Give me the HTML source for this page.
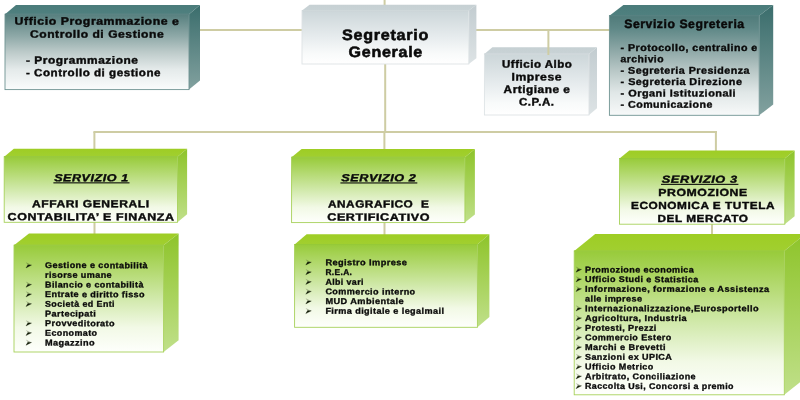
<!DOCTYPE html>
<html><head><meta charset="utf-8"><title>Organigramma</title>
<style>
html,body{margin:0;padding:0;background:#fff;}
body{width:800px;height:400px;overflow:hidden;font-family:"Liberation Sans",sans-serif;}
svg{display:block;filter:blur(0.55px);}
text{font-family:"Liberation Sans",sans-serif;font-weight:bold;fill:#0a0a0a;stroke:#0a0a0a;}
</style></head><body>
<svg width="800" height="400" viewBox="0 0 800 400">

<defs>
<linearGradient id="tealFront" x1="0" y1="0" x2="0" y2="1">
<stop offset="0" stop-color="#567f7e"/><stop offset="0.3" stop-color="#90aaa9"/><stop offset="0.5" stop-color="#bccac9"/><stop offset="0.73" stop-color="#e4eaea"/><stop offset="1" stop-color="#fafcfc"/>
</linearGradient>
<linearGradient id="tealFront2" x1="0" y1="0" x2="0" y2="1">
<stop offset="0" stop-color="#507b7a"/><stop offset="0.13" stop-color="#5f8887"/><stop offset="0.35" stop-color="#8ea8a7"/><stop offset="0.55" stop-color="#b8c7c6"/><stop offset="0.77" stop-color="#e0e7e7"/><stop offset="1" stop-color="#f7f9f9"/>
</linearGradient>
<linearGradient id="tealTop" x1="0" y1="0" x2="0" y2="1">
<stop offset="0" stop-color="#4a7b7a"/><stop offset="1" stop-color="#4f807f"/>
</linearGradient>
<linearGradient id="tealSide" x1="0" y1="0" x2="0" y2="1">
<stop offset="0" stop-color="#3a6d6c"/><stop offset="1" stop-color="#82a19f"/>
</linearGradient>
<linearGradient id="greyFront" x1="0" y1="0" x2="0" y2="1">
<stop offset="0" stop-color="#ccd6d9"/><stop offset="0.5" stop-color="#e7ecee"/><stop offset="0.8" stop-color="#f8fafa"/><stop offset="1" stop-color="#ffffff"/>
</linearGradient>
<linearGradient id="greyTop" x1="0" y1="0" x2="0" y2="1">
<stop offset="0" stop-color="#c6d0d3"/><stop offset="1" stop-color="#c9d3d6"/>
</linearGradient>
<linearGradient id="greySide" x1="0" y1="0" x2="0" y2="1">
<stop offset="0" stop-color="#c2ccd0"/><stop offset="1" stop-color="#dde3e5"/>
</linearGradient>
<linearGradient id="greenFront" x1="0" y1="0" x2="0" y2="1">
<stop offset="0" stop-color="#98cb3a"/><stop offset="0.5" stop-color="#d1e9ab"/><stop offset="0.77" stop-color="#f2f9e6"/><stop offset="1" stop-color="#fefffc"/>
</linearGradient>
<linearGradient id="greenTop" x1="0" y1="0" x2="0" y2="1">
<stop offset="0" stop-color="#9ecd24"/><stop offset="1" stop-color="#a1cf30"/>
</linearGradient>
<linearGradient id="greenSide" x1="0" y1="0" x2="0" y2="1">
<stop offset="0" stop-color="#8ec42a"/><stop offset="1" stop-color="#c0e08a"/>
</linearGradient>
</defs>

<rect width="800" height="400" fill="#ffffff"/>
<g id="lines">
<rect x="199" y="29.0" width="104" height="2" fill="#cecca3"/>
<rect x="475" y="29.0" width="135" height="2" fill="#cecca3"/>
<rect x="383.6" y="0" width="2" height="6" fill="#cecca3"/>
<rect x="384.2" y="63" width="2" height="69" fill="#cecca3"/>
<rect x="93.4" y="131.0" width="623.6" height="2" fill="#cecca3"/>
<rect x="93.4" y="132" width="2" height="18" fill="#cecca3"/>
<rect x="383.4" y="132" width="2" height="18" fill="#cecca3"/>
<rect x="714.9" y="132" width="2" height="20" fill="#cecca3"/>
<rect x="93.5" y="222" width="2" height="13" fill="#cecca3"/>
<rect x="383.5" y="222" width="2" height="13" fill="#cecca3"/>
<rect x="711.0" y="223" width="2" height="12" fill="#cecca3"/>
<polygon points="5,14.2 16,5.0 200,5.0 189,14.2" fill="url(#tealTop)"/>
<polygon points="189,14.2 200,5.0 200,80.39999999999999 189,89.6" fill="url(#tealSide)"/>
<rect x="5" y="14.2" width="184" height="75.39999999999999" fill="url(#tealFront)" stroke="#6f9392" stroke-width="0.9"/>
<line x1="5" y1="14.2" x2="189" y2="14.2" stroke="#4f7b7a" stroke-width="0.9"/>
<polygon points="302,10.6 309.6,4.8 476.40000000000003,4.8 468.8,10.6" fill="url(#greyTop)"/>
<polygon points="468.8,10.6 476.40000000000003,4.8 476.40000000000003,58.2 468.8,64" fill="url(#greySide)"/>
<rect x="302" y="10.6" width="166.8" height="53.4" fill="url(#greyFront)" stroke="#dde3e5" stroke-width="0.9"/>
<line x1="302" y1="10.6" x2="468.8" y2="10.6" stroke="#ccd5d8" stroke-width="0.9"/>
<polygon points="484.4,54 492.4,47.2 597,47.2 589,54" fill="url(#greyTop)"/>
<polygon points="589,54 597,47.2 597,108.2 589,115" fill="url(#greySide)"/>
<rect x="484.4" y="54" width="104.60000000000002" height="61" fill="url(#greyFront)" stroke="#dde3e5" stroke-width="0.9"/>
<line x1="484.4" y1="54" x2="589" y2="54" stroke="#ccd5d8" stroke-width="0.9"/>
<polygon points="609.4,15.7 623.4,4.899999999999999 773.2,4.899999999999999 759.2,15.7" fill="url(#tealTop)"/>
<polygon points="759.2,15.7 773.2,4.899999999999999 773.2,104.5 759.2,115.3" fill="url(#tealSide)"/>
<rect x="609.4" y="15.7" width="149.80000000000007" height="99.6" fill="url(#tealFront2)" stroke="#6f9392" stroke-width="0.9"/>
<line x1="609.4" y1="15.7" x2="759.2" y2="15.7" stroke="#4f7b7a" stroke-width="0.9"/>
<polygon points="4.2,156.7 13.8,148.7 187.1,148.7 177.5,156.7" fill="url(#greenTop)"/>
<polygon points="177.5,156.7 187.1,148.7 187.1,214.3 177.5,222.3" fill="url(#greenSide)"/>
<rect x="4.2" y="156.7" width="173.3" height="65.60000000000002" fill="url(#greenFront)" stroke="#a6d15a" stroke-width="0.9"/>
<line x1="4.2" y1="156.7" x2="177.5" y2="156.7" stroke="#93c734" stroke-width="0.9"/>
<polygon points="291.6,157.2 301.6,149.0 474.9,149.0 464.9,157.2" fill="url(#greenTop)"/>
<polygon points="464.9,157.2 474.9,149.0 474.9,214.4 464.9,222.6" fill="url(#greenSide)"/>
<rect x="291.6" y="157.2" width="173.29999999999995" height="65.4" fill="url(#greenFront)" stroke="#a6d15a" stroke-width="0.9"/>
<line x1="291.6" y1="157.2" x2="464.9" y2="157.2" stroke="#93c734" stroke-width="0.9"/>
<polygon points="619.5,158.5 629.3,150.5 794.5999999999999,150.5 784.8,158.5" fill="url(#greenTop)"/>
<polygon points="784.8,158.5 794.5999999999999,150.5 794.5999999999999,216.2 784.8,224.2" fill="url(#greenSide)"/>
<rect x="619.5" y="158.5" width="165.29999999999995" height="65.69999999999999" fill="url(#greenFront)" stroke="#a6d15a" stroke-width="0.9"/>
<line x1="619.5" y1="158.5" x2="784.8" y2="158.5" stroke="#93c734" stroke-width="0.9"/>
<polygon points="14,245.2 29,233.5 178.6,233.5 163.6,245.2" fill="url(#greenTop)"/>
<polygon points="163.6,245.2 178.6,233.5 178.6,340.3 163.6,352" fill="url(#greenSide)"/>
<rect x="14" y="245.2" width="149.6" height="106.80000000000001" fill="url(#greenFront)" stroke="#a6d15a" stroke-width="0.9"/>
<line x1="14" y1="245.2" x2="163.6" y2="245.2" stroke="#93c734" stroke-width="0.9"/>
<polygon points="294.6,244.5 306.6,234.3 489.4,234.3 477.4,244.5" fill="url(#greenTop)"/>
<polygon points="477.4,244.5 489.4,234.3 489.4,317.1 477.4,327.3" fill="url(#greenSide)"/>
<rect x="294.6" y="244.5" width="182.79999999999995" height="82.80000000000001" fill="url(#greenFront)" stroke="#a6d15a" stroke-width="0.9"/>
<line x1="294.6" y1="244.5" x2="477.4" y2="244.5" stroke="#93c734" stroke-width="0.9"/>
<polygon points="574.2,251.0 595.2,234.1 805.3,234.1 784.3,251.0" fill="url(#greenTop)"/>
<polygon points="784.3,251.0 805.3,234.1 805.3,377.90000000000003 784.3,394.8" fill="url(#greenSide)"/>
<rect x="574.2" y="251.0" width="210.0999999999999" height="143.8" fill="url(#greenFront)" stroke="#a6d15a" stroke-width="0.9"/>
<line x1="574.2" y1="251.0" x2="784.3" y2="251.0" stroke="#93c734" stroke-width="0.9"/>
<rect x="547.4" y="30" width="2" height="25" fill="#cecca3"/>
</g>
<g id="texts">
<text x="14.6" y="24.8" transform="rotate(0.03 14.6 24.8)" font-size="10.89" stroke-width="0.41" letter-spacing="0.49" textLength="164.9" lengthAdjust="spacingAndGlyphs" >Ufficio Programmazione e</text>
<text x="30" y="37.8" transform="rotate(0.03 30 37.8)" font-size="10.89" stroke-width="0.41" letter-spacing="0.49" textLength="134.2" lengthAdjust="spacingAndGlyphs" >Controllo di Gestione</text>
<text x="25.9" y="63.7" transform="rotate(0.03 25.9 63.7)" font-size="10.57" stroke-width="0.4" letter-spacing="0.48" textLength="112.6" lengthAdjust="spacingAndGlyphs" >- Programmazione</text>
<text x="25.9" y="76.3" transform="rotate(0.03 25.9 76.3)" font-size="10.57" stroke-width="0.4" letter-spacing="0.48" textLength="135.1" lengthAdjust="spacingAndGlyphs" >- Controllo di gestione</text>
<text x="342" y="40" transform="rotate(0.03 342 40)" font-size="15.12" stroke-width="0.57" letter-spacing="0.68" textLength="87.0" lengthAdjust="spacingAndGlyphs" >Segretario</text>
<text x="348.6" y="57" transform="rotate(0.03 348.6 57)" font-size="15.12" stroke-width="0.57" letter-spacing="0.68" textLength="74.4" lengthAdjust="spacingAndGlyphs" >Generale</text>
<text x="502" y="67.8" transform="rotate(0.03 502 67.8)" font-size="10.89" stroke-width="0.41" letter-spacing="0.49" textLength="70.4" lengthAdjust="spacingAndGlyphs" >Ufficio Albo</text>
<text x="511.6" y="80.4" transform="rotate(0.03 511.6 80.4)" font-size="10.89" stroke-width="0.41" letter-spacing="0.49" textLength="50.4" lengthAdjust="spacingAndGlyphs" >Imprese</text>
<text x="503.6" y="93" transform="rotate(0.03 503.6 93)" font-size="10.89" stroke-width="0.41" letter-spacing="0.49" textLength="66.8" lengthAdjust="spacingAndGlyphs" >Artigiane e</text>
<text x="519" y="105.6" transform="rotate(0.03 519 105.6)" font-size="10.89" stroke-width="0.41" letter-spacing="0.49" textLength="35.6" lengthAdjust="spacingAndGlyphs" >C.P.A.</text>
<text x="624.2" y="28.0" transform="rotate(0.03 624.2 28.0)" font-size="12.16" stroke-width="0.46" letter-spacing="0.55" textLength="120.5" lengthAdjust="spacingAndGlyphs" >Servizio Segreteria</text>
<text x="620.6" y="51.0" transform="rotate(0.03 620.6 51.0)" font-size="9.83" stroke-width="0.37" letter-spacing="0.44" textLength="137.1" lengthAdjust="spacingAndGlyphs" >- Protocollo, centralino e</text>
<text x="620.6" y="62.3" transform="rotate(0.03 620.6 62.3)" font-size="9.83" stroke-width="0.37" letter-spacing="0.44" textLength="43.4" lengthAdjust="spacingAndGlyphs" >archivio</text>
<text x="620.6" y="73.7" transform="rotate(0.03 620.6 73.7)" font-size="9.83" stroke-width="0.37" letter-spacing="0.44" textLength="129.4" lengthAdjust="spacingAndGlyphs" >- Segreteria Presidenza</text>
<text x="620.6" y="85.0" transform="rotate(0.03 620.6 85.0)" font-size="9.83" stroke-width="0.37" letter-spacing="0.44" textLength="121.8" lengthAdjust="spacingAndGlyphs" >- Segreteria Direzione</text>
<text x="620.6" y="96.4" transform="rotate(0.03 620.6 96.4)" font-size="9.83" stroke-width="0.37" letter-spacing="0.44" textLength="115.4" lengthAdjust="spacingAndGlyphs" >- Organi Istituzionali</text>
<text x="620.6" y="107.7" transform="rotate(0.03 620.6 107.7)" font-size="9.83" stroke-width="0.37" letter-spacing="0.44" textLength="92.2" lengthAdjust="spacingAndGlyphs" >- Comunicazione</text>
<text x="54.2" y="181.2" transform="rotate(0.03 54.2 181.2)" font-size="10.25" stroke-width="0.39" letter-spacing="0.46" textLength="74.5" lengthAdjust="spacingAndGlyphs" font-style="italic">SERVIZIO 1</text>
<rect x="53.4" y="182.3" width="76.1" height="1.1" fill="#0a0a0a"/>
<text x="32" y="207.3" transform="rotate(0.03 32 207.3)" font-size="10.36" stroke-width="0.39" letter-spacing="0.47" textLength="117.6" lengthAdjust="spacingAndGlyphs" >AFFARI GENERALI</text>
<text x="7.6" y="220.3" transform="rotate(0.03 7.6 220.3)" font-size="10.36" stroke-width="0.39" letter-spacing="0.47" textLength="167.0" lengthAdjust="spacingAndGlyphs" >CONTABILITA’ E FINANZA</text>
<text x="341.2" y="181.3" transform="rotate(0.03 341.2 181.3)" font-size="10.25" stroke-width="0.39" letter-spacing="0.46" textLength="75.3" lengthAdjust="spacingAndGlyphs" font-style="italic">SERVIZIO 2</text>
<rect x="340.4" y="182.4" width="76.90000000000003" height="1.1" fill="#0a0a0a"/>
<text x="328" y="207.4" transform="rotate(0.03 328 207.4)" font-size="10.36" stroke-width="0.39" letter-spacing="0.47" textLength="101.3" lengthAdjust="spacingAndGlyphs" >ANAGRAFICO  E</text>
<text x="327.3" y="220.6" transform="rotate(0.03 327.3 220.6)" font-size="10.36" stroke-width="0.39" letter-spacing="0.47" textLength="102.7" lengthAdjust="spacingAndGlyphs" >CERTIFICATIVO</text>
<text x="661.8" y="182.8" transform="rotate(0.03 661.8 182.8)" font-size="10.25" stroke-width="0.39" letter-spacing="0.46" textLength="75.8" lengthAdjust="spacingAndGlyphs" font-style="italic">SERVIZIO 3</text>
<rect x="661" y="183.8" width="77.39999999999998" height="1.1" fill="#0a0a0a"/>
<text x="658.2" y="195.9" transform="rotate(0.03 658.2 195.9)" font-size="10.36" stroke-width="0.39" letter-spacing="0.47" textLength="89.6" lengthAdjust="spacingAndGlyphs" >PROMOZIONE</text>
<text x="631" y="209" transform="rotate(0.03 631 209)" font-size="10.36" stroke-width="0.39" letter-spacing="0.47" textLength="144.0" lengthAdjust="spacingAndGlyphs" >ECONOMICA E TUTELA</text>
<text x="657.5" y="222" transform="rotate(0.03 657.5 222)" font-size="10.36" stroke-width="0.39" letter-spacing="0.47" textLength="91.0" lengthAdjust="spacingAndGlyphs" >DEL MERCATO</text>
<text x="45" y="268.1" transform="rotate(0.03 45 268.1)" font-size="8.35" stroke-width="0.32" letter-spacing="0.38" textLength="103.0" lengthAdjust="spacingAndGlyphs" >Gestione e contabilità</text>
<path d="M25.80,262.20 L31.50,265.10 L27.80,264.90 Z" fill="#2a3a14" fill-opacity="0.35"/><path d="M27.80,264.90 L31.50,265.10 L26.00,267.90 Z" fill="#121c06" stroke="#121c06" stroke-width="0.3"/>
<text x="45" y="277.77" transform="rotate(0.03 45 277.77)" font-size="8.35" stroke-width="0.32" letter-spacing="0.38" textLength="67.0" lengthAdjust="spacingAndGlyphs" >risorse umane</text>
<text x="45" y="287.44" transform="rotate(0.03 45 287.44)" font-size="8.35" stroke-width="0.32" letter-spacing="0.38" textLength="98.8" lengthAdjust="spacingAndGlyphs" >Bilancio e contabilità</text>
<path d="M25.80,281.54 L31.50,284.44 L27.80,284.24 Z" fill="#2a3a14" fill-opacity="0.35"/><path d="M27.80,284.24 L31.50,284.44 L26.00,287.24 Z" fill="#121c06" stroke="#121c06" stroke-width="0.3"/>
<text x="45" y="297.11" transform="rotate(0.03 45 297.11)" font-size="8.35" stroke-width="0.32" letter-spacing="0.38" textLength="100.0" lengthAdjust="spacingAndGlyphs" >Entrate e diritto fisso</text>
<path d="M25.80,291.21 L31.50,294.11 L27.80,293.91 Z" fill="#2a3a14" fill-opacity="0.35"/><path d="M27.80,293.91 L31.50,294.11 L26.00,296.91 Z" fill="#121c06" stroke="#121c06" stroke-width="0.3"/>
<text x="45" y="306.78" transform="rotate(0.03 45 306.78)" font-size="8.35" stroke-width="0.32" letter-spacing="0.38" textLength="70.0" lengthAdjust="spacingAndGlyphs" >Società ed Enti</text>
<path d="M25.80,300.88 L31.50,303.78 L27.80,303.58 Z" fill="#2a3a14" fill-opacity="0.35"/><path d="M27.80,303.58 L31.50,303.78 L26.00,306.58 Z" fill="#121c06" stroke="#121c06" stroke-width="0.3"/>
<text x="45" y="316.45" transform="rotate(0.03 45 316.45)" font-size="8.35" stroke-width="0.32" letter-spacing="0.38" textLength="51.2" lengthAdjust="spacingAndGlyphs" >Partecipati</text>
<text x="45" y="326.12" transform="rotate(0.03 45 326.12)" font-size="8.35" stroke-width="0.32" letter-spacing="0.38" textLength="70.0" lengthAdjust="spacingAndGlyphs" >Provveditorato</text>
<path d="M25.80,320.22 L31.50,323.12 L27.80,322.92 Z" fill="#2a3a14" fill-opacity="0.35"/><path d="M27.80,322.92 L31.50,323.12 L26.00,325.92 Z" fill="#121c06" stroke="#121c06" stroke-width="0.3"/>
<text x="45" y="335.79" transform="rotate(0.03 45 335.79)" font-size="8.35" stroke-width="0.32" letter-spacing="0.38" textLength="52.5" lengthAdjust="spacingAndGlyphs" >Economato</text>
<path d="M25.80,329.89 L31.50,332.79 L27.80,332.59 Z" fill="#2a3a14" fill-opacity="0.35"/><path d="M27.80,332.59 L31.50,332.79 L26.00,335.59 Z" fill="#121c06" stroke="#121c06" stroke-width="0.3"/>
<text x="45" y="345.46" transform="rotate(0.03 45 345.46)" font-size="8.35" stroke-width="0.32" letter-spacing="0.38" textLength="50.0" lengthAdjust="spacingAndGlyphs" >Magazzino</text>
<path d="M25.80,339.56 L31.50,342.46 L27.80,342.26 Z" fill="#2a3a14" fill-opacity="0.35"/><path d="M27.80,342.26 L31.50,342.46 L26.00,345.26 Z" fill="#121c06" stroke="#121c06" stroke-width="0.3"/>
<text x="325.4" y="265.2" transform="rotate(0.03 325.4 265.2)" font-size="8.35" stroke-width="0.32" letter-spacing="0.38" textLength="81.9" lengthAdjust="spacingAndGlyphs" >Registro Imprese</text>
<path d="M305.60,259.30 L311.30,262.20 L307.60,262.00 Z" fill="#2a3a14" fill-opacity="0.35"/><path d="M307.60,262.00 L311.30,262.20 L305.80,265.00 Z" fill="#121c06" stroke="#121c06" stroke-width="0.3"/>
<text x="325.4" y="274.92" transform="rotate(0.03 325.4 274.92)" font-size="8.35" stroke-width="0.32" letter-spacing="0.38" textLength="26.9" lengthAdjust="spacingAndGlyphs" >R.E.A.</text>
<path d="M305.60,269.02 L311.30,271.92 L307.60,271.72 Z" fill="#2a3a14" fill-opacity="0.35"/><path d="M307.60,271.72 L311.30,271.92 L305.80,274.72 Z" fill="#121c06" stroke="#121c06" stroke-width="0.3"/>
<text x="325.4" y="284.64" transform="rotate(0.03 325.4 284.64)" font-size="8.35" stroke-width="0.32" letter-spacing="0.38" textLength="38.5" lengthAdjust="spacingAndGlyphs" >Albi vari</text>
<path d="M305.60,278.74 L311.30,281.64 L307.60,281.44 Z" fill="#2a3a14" fill-opacity="0.35"/><path d="M307.60,281.44 L311.30,281.64 L305.80,284.44 Z" fill="#121c06" stroke="#121c06" stroke-width="0.3"/>
<text x="325.4" y="294.36" transform="rotate(0.03 325.4 294.36)" font-size="8.35" stroke-width="0.32" letter-spacing="0.38" textLength="90.2" lengthAdjust="spacingAndGlyphs" >Commercio interno</text>
<path d="M305.60,288.46 L311.30,291.36 L307.60,291.16 Z" fill="#2a3a14" fill-opacity="0.35"/><path d="M307.60,291.16 L311.30,291.36 L305.80,294.16 Z" fill="#121c06" stroke="#121c06" stroke-width="0.3"/>
<text x="325.4" y="304.08" transform="rotate(0.03 325.4 304.08)" font-size="8.35" stroke-width="0.32" letter-spacing="0.38" textLength="78.6" lengthAdjust="spacingAndGlyphs" >MUD Ambientale</text>
<path d="M305.60,298.18 L311.30,301.08 L307.60,300.88 Z" fill="#2a3a14" fill-opacity="0.35"/><path d="M307.60,300.88 L311.30,301.08 L305.80,303.88 Z" fill="#121c06" stroke="#121c06" stroke-width="0.3"/>
<text x="325.4" y="313.8" transform="rotate(0.03 325.4 313.8)" font-size="8.35" stroke-width="0.32" letter-spacing="0.38" textLength="119.0" lengthAdjust="spacingAndGlyphs" >Firma digitale e legalmail</text>
<path d="M305.60,307.90 L311.30,310.80 L307.60,310.60 Z" fill="#2a3a14" fill-opacity="0.35"/><path d="M307.60,310.60 L311.30,310.80 L305.80,313.60 Z" fill="#121c06" stroke="#121c06" stroke-width="0.3"/>
<text x="585.0" y="272.4" transform="rotate(0.03 585.0 272.4)" font-size="8.35" stroke-width="0.32" letter-spacing="0.38" textLength="109.2" lengthAdjust="spacingAndGlyphs" >Promozione economica</text>
<path d="M575.80,266.50 L581.50,269.40 L577.80,269.20 Z" fill="#2a3a14" fill-opacity="0.35"/><path d="M577.80,269.20 L581.50,269.40 L576.00,272.20 Z" fill="#121c06" stroke="#121c06" stroke-width="0.3"/>
<text x="585.0" y="282.1" transform="rotate(0.03 585.0 282.1)" font-size="8.35" stroke-width="0.32" letter-spacing="0.38" textLength="113.7" lengthAdjust="spacingAndGlyphs" >Ufficio Studi e Statistica</text>
<path d="M575.80,276.20 L581.50,279.10 L577.80,278.90 Z" fill="#2a3a14" fill-opacity="0.35"/><path d="M577.80,278.90 L581.50,279.10 L576.00,281.90 Z" fill="#121c06" stroke="#121c06" stroke-width="0.3"/>
<text x="585.0" y="291.81" transform="rotate(0.03 585.0 291.81)" font-size="8.35" stroke-width="0.32" letter-spacing="0.38" textLength="184.5" lengthAdjust="spacingAndGlyphs" >Informazione, formazione e Assistenza</text>
<path d="M575.80,285.91 L581.50,288.81 L577.80,288.61 Z" fill="#2a3a14" fill-opacity="0.35"/><path d="M577.80,288.61 L581.50,288.81 L576.00,291.61 Z" fill="#121c06" stroke="#121c06" stroke-width="0.3"/>
<text x="585.0" y="301.51" transform="rotate(0.03 585.0 301.51)" font-size="8.35" stroke-width="0.32" letter-spacing="0.38" textLength="57.4" lengthAdjust="spacingAndGlyphs" >alle imprese</text>
<text x="585.0" y="311.22" transform="rotate(0.03 585.0 311.22)" font-size="8.35" stroke-width="0.32" letter-spacing="0.38" textLength="174.0" lengthAdjust="spacingAndGlyphs" >Internazionalizzazione,Eurosportello</text>
<path d="M575.80,305.32 L581.50,308.22 L577.80,308.02 Z" fill="#2a3a14" fill-opacity="0.35"/><path d="M577.80,308.02 L581.50,308.22 L576.00,311.02 Z" fill="#121c06" stroke="#121c06" stroke-width="0.3"/>
<text x="585.0" y="320.92" transform="rotate(0.03 585.0 320.92)" font-size="8.35" stroke-width="0.32" letter-spacing="0.38" textLength="102.0" lengthAdjust="spacingAndGlyphs" >Agricoltura, Industria</text>
<path d="M575.80,315.02 L581.50,317.92 L577.80,317.72 Z" fill="#2a3a14" fill-opacity="0.35"/><path d="M577.80,317.72 L581.50,317.92 L576.00,320.72 Z" fill="#121c06" stroke="#121c06" stroke-width="0.3"/>
<text x="585.0" y="330.63" transform="rotate(0.03 585.0 330.63)" font-size="8.35" stroke-width="0.32" letter-spacing="0.38" textLength="71.8" lengthAdjust="spacingAndGlyphs" >Protesti, Prezzi</text>
<path d="M575.80,324.73 L581.50,327.63 L577.80,327.43 Z" fill="#2a3a14" fill-opacity="0.35"/><path d="M577.80,327.43 L581.50,327.63 L576.00,330.43 Z" fill="#121c06" stroke="#121c06" stroke-width="0.3"/>
<text x="585.0" y="340.33" transform="rotate(0.03 585.0 340.33)" font-size="8.35" stroke-width="0.32" letter-spacing="0.38" textLength="86.7" lengthAdjust="spacingAndGlyphs" >Commercio Estero</text>
<path d="M575.80,334.44 L581.50,337.33 L577.80,337.13 Z" fill="#2a3a14" fill-opacity="0.35"/><path d="M577.80,337.13 L581.50,337.33 L576.00,340.13 Z" fill="#121c06" stroke="#121c06" stroke-width="0.3"/>
<text x="585.0" y="350.04" transform="rotate(0.03 585.0 350.04)" font-size="8.35" stroke-width="0.32" letter-spacing="0.38" textLength="80.9" lengthAdjust="spacingAndGlyphs" >Marchi e Brevetti</text>
<path d="M575.80,344.14 L581.50,347.04 L577.80,346.84 Z" fill="#2a3a14" fill-opacity="0.35"/><path d="M577.80,346.84 L581.50,347.04 L576.00,349.84 Z" fill="#121c06" stroke="#121c06" stroke-width="0.3"/>
<text x="585.0" y="359.75" transform="rotate(0.03 585.0 359.75)" font-size="8.35" stroke-width="0.32" letter-spacing="0.38" textLength="87.2" lengthAdjust="spacingAndGlyphs" >Sanzioni ex UPICA</text>
<path d="M575.80,353.85 L581.50,356.75 L577.80,356.55 Z" fill="#2a3a14" fill-opacity="0.35"/><path d="M577.80,356.55 L581.50,356.75 L576.00,359.55 Z" fill="#121c06" stroke="#121c06" stroke-width="0.3"/>
<text x="585.0" y="369.45" transform="rotate(0.03 585.0 369.45)" font-size="8.35" stroke-width="0.32" letter-spacing="0.38" textLength="68.7" lengthAdjust="spacingAndGlyphs" >Ufficio Metrico</text>
<path d="M575.80,363.55 L581.50,366.45 L577.80,366.25 Z" fill="#2a3a14" fill-opacity="0.35"/><path d="M577.80,366.25 L581.50,366.45 L576.00,369.25 Z" fill="#121c06" stroke="#121c06" stroke-width="0.3"/>
<text x="585.0" y="379.15" transform="rotate(0.03 585.0 379.15)" font-size="8.35" stroke-width="0.32" letter-spacing="0.38" textLength="111.0" lengthAdjust="spacingAndGlyphs" >Arbitrato, Conciliazione</text>
<path d="M575.80,373.25 L581.50,376.15 L577.80,375.95 Z" fill="#2a3a14" fill-opacity="0.35"/><path d="M577.80,375.95 L581.50,376.15 L576.00,378.95 Z" fill="#121c06" stroke="#121c06" stroke-width="0.3"/>
<text x="585.0" y="388.86" transform="rotate(0.03 585.0 388.86)" font-size="8.35" stroke-width="0.32" letter-spacing="0.38" textLength="148.9" lengthAdjust="spacingAndGlyphs" >Raccolta Usi, Concorsi a premio</text>
<path d="M575.80,382.96 L581.50,385.86 L577.80,385.66 Z" fill="#2a3a14" fill-opacity="0.35"/><path d="M577.80,385.66 L581.50,385.86 L576.00,388.66 Z" fill="#121c06" stroke="#121c06" stroke-width="0.3"/>
</g>
</svg>
</body></html>
